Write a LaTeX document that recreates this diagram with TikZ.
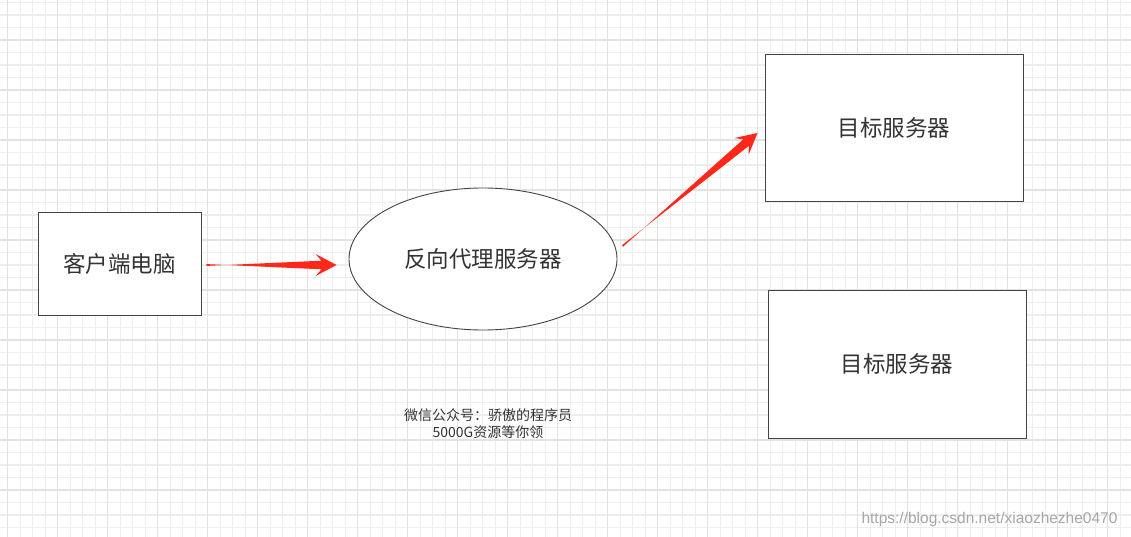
\documentclass[tikz,border=0pt]{standalone}
\usepackage{fontspec}
\setmainfont{Noto Sans CJK SC}
\newfontfamily\urlfont{Liberation Sans}
\usetikzlibrary{shapes.geometric,calc}

\definecolor{gridminor}{HTML}{EEEEEE}
\definecolor{gridmajor}{HTML}{E2E2E2}
\definecolor{boxline}{HTML}{444444}
\definecolor{txt}{HTML}{333333}
\definecolor{arrowred}{HTML}{FF2719}

\tikzset{
	hostbox/.style={draw=boxline,fill=white,line width=0.9pt,text=txt,
		font=\fontsize{22.5}{27}\selectfont,inner sep=0pt},
	proxyshape/.style={hostbox,ellipse},
	note/.style={text=txt,font=\fontsize{14}{17}\selectfont,align=center}
}

% tapered red arrow from #1 to #2
\newcommand\fatarrow[2]{
	\coordinate (hb) at ($(#2)!21pt!(#1)$);
	\coordinate (hn) at ($(#2)!15pt!(#1)$);
	\fill[arrowred] ($(#1)!0.9pt!90:(#2)$) -- ($(hn)!4.3pt!-90:(#2)$)
		-- ($(hb)!11pt!-90:(#2)$) -- (#2) -- ($(hb)!11pt!90:(#2)$)
		-- ($(hn)!4.3pt!90:(#2)$) -- ($(#1)!0.9pt!-90:(#2)$) -- cycle;
}

\begin{document}
\begin{tikzpicture}[x=1pt,y=-1pt]
	\useasboundingbox (0,0) rectangle (1131,537);
	\fill[white] (0,0) rectangle (1131,537);
	%grid
	\begin{scope}
		\clip (0,0) rectangle (1131,537);
		\foreach \i in {0,...,90}
			\draw[gridminor,line width=1.1pt] (7.7+12.5*\i,0) -- (7.7+12.5*\i,537);
		\foreach \j in {0,...,43}
			\draw[gridminor,line width=1.1pt] (0,2.5+12.5*\j) -- (1131,2.5+12.5*\j);
		\foreach \i in {0,...,22}
			\draw[gridmajor,line width=1.3pt] (7.7+50*\i,0) -- (7.7+50*\i,537);
		\foreach \j in {0,...,10}
			\draw[gridmajor,line width=1.3pt] (0,-10+50*\j) -- (1131,-10+50*\j);
	\end{scope}

	\node[hostbox,minimum width=163pt,minimum height=103pt] (client) at (119.5,263.5) {客户端电脑};
	\node[proxyshape,minimum width=268pt,minimum height=142pt] (proxy) at (483,259) {反向代理服务器};
	\node[hostbox,minimum width=258pt,minimum height=147pt] (target1) at (894,128) {目标服务器};
	\node[hostbox,minimum width=258pt,minimum height=148pt] (target2) at (897,364) {目标服务器};

	\coordinate (a1s) at ([shift={(5,1.5)}]client.east);
	\coordinate (a1e) at ([shift={(-12,6)}]proxy.west);
	\coordinate (a2s) at ([shift={(5,-13)}]proxy.east);
	\coordinate (a2e) at ([shift={(-7,5)}]target1.west);
	\fatarrow{a1s}{a1e}
	\fatarrow{a2s}{a2e}

	\node[note] (wechat) at (488,424) {微信公众号：骄傲的程序员\\5000G资源等你领};
	\node[text=black!35,font=\urlfont\fontsize{15.5}{18}\selectfont,anchor=east] (blog) at (1121,519) {https://blog.csdn.net/xiaozhezhe0470};
\end{tikzpicture}
\end{document}
